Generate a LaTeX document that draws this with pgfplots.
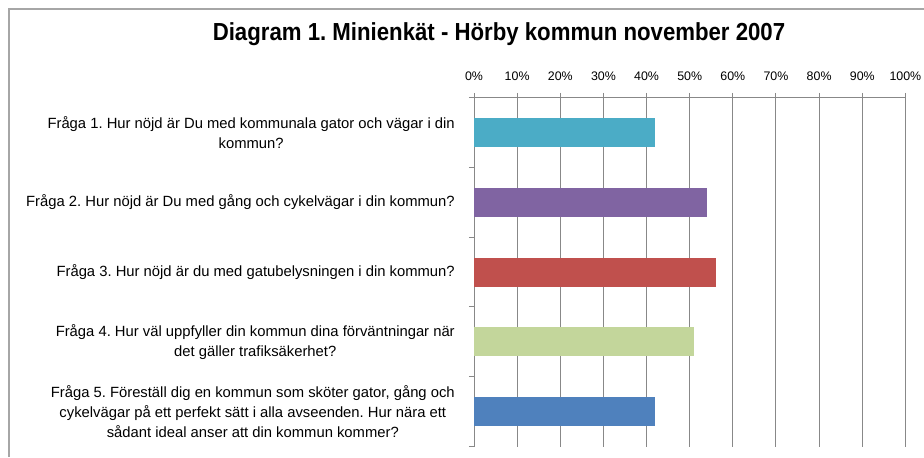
\documentclass[border=0pt]{standalone}
\usepackage{fontspec}
\setmainfont{Liberation Sans}
\usepackage{pgfplots}
\pgfplotsset{compat=1.18}
\definecolor{axisgray}{HTML}{888888}
\definecolor{framegray}{HTML}{A6A6A6}
\definecolor{cA}{HTML}{4BACC6}
\definecolor{cB}{HTML}{8064A2}
\definecolor{cC}{HTML}{C0504D}
\definecolor{cD}{HTML}{C3D69B}
\definecolor{cE}{HTML}{4F81BD}
\frenchspacing
\begin{document}
\frenchspacing
\begin{tikzpicture}[x=0.75pt,y=0.75pt]
\path[use as bounding box] (0,0) rectangle (924,457);
\draw[framegray, line width=1.1pt] (9,0) -- (9,448) -- (924,448);
\node[font=\bfseries\fontsize{18.5pt}{21pt}\selectfont] at (499,423) {\scalebox{0.9}[1]{Diagram 1. Minienkät - Hörby kommun november 2007}};
\begin{axis}[
  at={(355.5pt,7.725pt)}, anchor=south west, scale only axis,
  width=323.55pt, height=262.05pt,
  xbar, bar shift=0pt, bar width=21.75pt,
  xmin=0, xmax=100, ymin=0.5, ymax=5.5,
  axis x line=top, axis y line=left,
  axis line style={-, draw=axisgray, line width=0.75pt},
  xtick={0,10,...,100},
  xticklabels={0\%,10\%,20\%,30\%,40\%,50\%,60\%,70\%,80\%,90\%,100\%},
  xticklabel style={font=\fontsize{9.3pt}{11pt}\selectfont, text=black, yshift=5.25pt},
  xmajorgrids, major grid style={draw=axisgray, line width=0.75pt},
  tick align=outside, major tick length=3.4pt,
  tick style={draw=axisgray, line width=0.75pt},
  ytick={1,2,3,4,5},
  yticklabels={
    {Fråga 5. Föreställ dig en kommun som sköter gator, gång och\\cykelvägar på ett perfekt sätt i alla avseenden. Hur nära ett\\sådant ideal anser att din kommun kommer?},
    {Fråga 4. Hur väl uppfyller din kommun dina förväntningar när\\det gäller trafiksäkerhet?},
    {Fråga 3. Hur nöjd är du med gatubelysningen i din kommun?},
    {Fråga 2. Hur nöjd är Du med gång och cykelvägar i din kommun?},
    {Fråga 1. Hur nöjd är Du med kommunala gator och vägar i din\\kommun?}},
  yticklabel style={font=\frenchspacing\fontsize{11.1pt}{15pt}\selectfont, align=center, text=black, xshift=-7.5pt},
  minor ytick={0.5,1.5,2.5,3.5,4.5,5.5}, minor tick length=3.8pt,
  major y tick style={draw=none},
]
\addplot[draw=none, fill=cA] coordinates {(42,5)};
\addplot[draw=none, fill=cB] coordinates {(54,4)};
\addplot[draw=none, fill=cC] coordinates {(56,3)};
\addplot[draw=none, fill=cD] coordinates {(51,2)};
\addplot[draw=none, fill=cE] coordinates {(42,1)};
\end{axis}
\end{tikzpicture}
\end{document}
